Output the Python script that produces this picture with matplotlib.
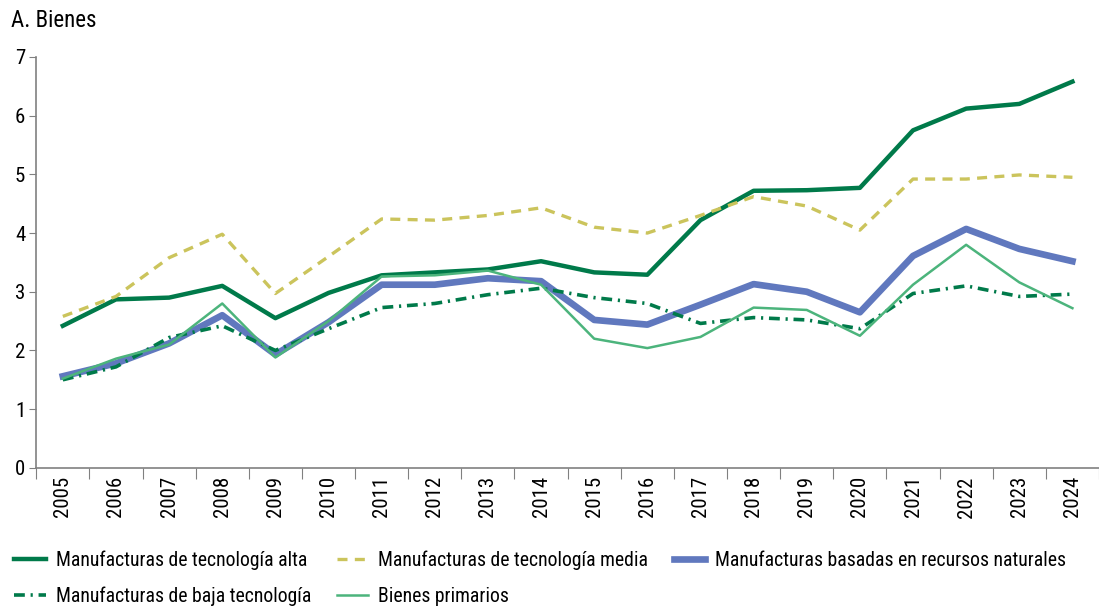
import matplotlib
matplotlib.use("Agg")
import matplotlib.pyplot as plt
import numpy as np

plt.rcParams["font.family"] = ["Roboto Condensed", "Liberation Sans Narrow", "Roboto", "DejaVu Sans"]

years = [str(y) for y in range(2005, 2025)]

alta = [2.42, 2.87, 2.90, 3.10, 2.55, 2.98, 3.28, 3.33, 3.38, 3.52,
        3.33, 3.29, 4.22, 4.72, 4.73, 4.77, 5.75, 6.12, 6.20, 6.58]
media = [2.58, 2.92, 3.58, 3.98, 2.97, 3.60, 4.24, 4.22, 4.30, 4.43,
         4.10, 4.00, 4.30, 4.62, 4.46, 4.05, 4.92, 4.92, 4.99, 4.95]
recursos = [1.56, 1.78, 2.12, 2.60, 1.93, 2.48, 3.12, 3.12, 3.23, 3.18,
            2.52, 2.44, 2.78, 3.13, 3.00, 2.65, 3.61, 4.07, 3.73, 3.52]
baja = [1.50, 1.72, 2.22, 2.42, 2.00, 2.37, 2.73, 2.80, 2.95, 3.06,
        2.90, 2.80, 2.46, 2.56, 2.52, 2.37, 2.97, 3.10, 2.92, 2.96]
primarios = [1.52, 1.86, 2.10, 2.80, 1.88, 2.50, 3.26, 3.28, 3.36, 3.12,
             2.20, 2.04, 2.23, 2.73, 2.69, 2.25, 3.12, 3.80, 3.16, 2.72]

labels = [
    "Manufacturas de tecnología alta",
    "Manufacturas de tecnología media",
    "Manufacturas basadas en recursos naturales",
    "Manufacturas de baja tecnología",
    "Bienes primarios",
]

c_dark = "#007a4a"
c_yellow = "#cbc45c"
c_blue = "#6078be"
c_light = "#4cb47c"

fig = plt.figure(figsize=(10.99, 6.06), dpi=100)
ax = fig.add_axes([0.033, 0.228, 0.967, 0.678])

x = np.arange(len(years))
l_alta, = ax.plot(x, alta, color=c_dark, lw=3.2)
l_media, = ax.plot(x, media, color=c_yellow, lw=2.4, dashes=(3, 2.2))
l_rec, = ax.plot(x, recursos, color=c_blue, lw=4.8)
l_baja, = ax.plot(x, baja, color=c_dark, lw=2.6, dashes=(3, 1.6, 0.6, 1.6))
l_prim, = ax.plot(x, primarios, color=c_light, lw=1.8)

ax.set_xlim(-0.5, len(years) - 0.5)
ax.set_ylim(0, 7)
ax.set_yticks(range(0, 8))
ax.tick_params(axis="y", labelsize=15, length=5, color="#808080", pad=3)

# category boundaries carry the tick marks, year labels sit in between
ax.set_xticks(np.arange(-0.5, len(years), 1.0))
ax.set_xticklabels([])
ax.tick_params(axis="x", which="major", length=8, color="#808080")
ax.set_xticks(x, minor=True)
ax.set_xticklabels(years, minor=True, rotation=90, fontsize=15)
ax.tick_params(axis="x", which="minor", length=0, pad=6)

for s in ["top", "right"]:
    ax.spines[s].set_visible(False)
for s in ["left", "bottom"]:
    ax.spines[s].set_color("#808080")
    ax.spines[s].set_linewidth(1.2)

fig.text(0.01, 0.955, "A. Bienes", fontsize=16.5)

handles = [l_alta, l_baja, l_media, l_prim, l_rec]
hlabels = [labels[0], labels[3], labels[1], labels[4], labels[2]]
fig.legend(handles, hlabels, loc="upper left", bbox_to_anchor=(0.013, 0.092),
           ncol=3, frameon=False, fontsize=14.2, handlelength=1.6,
           columnspacing=1.3, handletextpad=0.5, labelspacing=0.85,
           borderpad=0, borderaxespad=0)

fig.savefig("out.png", dpi=100)
